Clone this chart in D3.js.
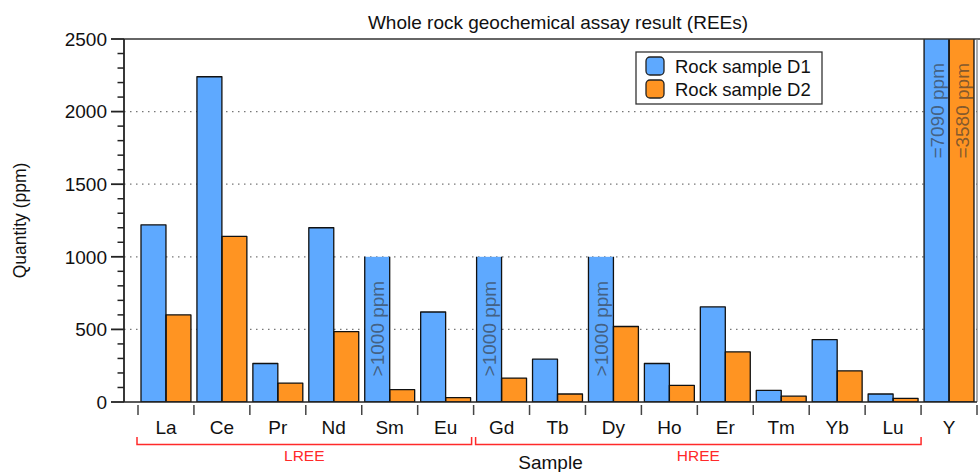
<!DOCTYPE html>
<html>
<head>
<meta charset="utf-8">
<script src="https://cdn.jsdelivr.net/npm/d3@7"></script>
<style>
  html, body { margin: 0; padding: 0; background: #fff; }
  svg { display: block; font-family: "Liberation Sans", Arial, Helvetica, sans-serif; }
</style>
</head>
<body>
<svg id="chart" width="980" height="472"></svg>
<script>
// Rare-earth elements (plus yttrium) measured in two rock samples
const elements = ["La", "Ce", "Pr", "Nd", "Sm", "Eu", "Gd", "Tb", "Dy", "Ho", "Er", "Tm", "Yb", "Lu", "Y"];
const seriesNames = ["Rock sample D1", "Rock sample D2"];
const d1Values = [1220, 2240, 265, 1200, 1000, 620, 1000, 295, 1000, 265, 655, 80, 430, 55, 7090];
const d2Values = [600, 1140, 130, 485, 85, 30, 165, 55, 520, 115, 345, 40, 215, 25, 3580];
// Annotations written inside bars (censored or off-scale values)
const d1Notes = [null, null, null, null, ">1000 ppm", null, ">1000 ppm", null, ">1000 ppm", null, null, null, null, null, "=7090 ppm"];
const d2Notes = [null, null, null, null, null, null, null, null, null, null, null, null, null, null, "=3580 ppm"];
// Flags for values that are only lower bounds (bar drawn open at the top)
const d1Open = [false, false, false, false, true, false, true, false, true, false, false, false, false, false, false];
const d2Open = d2Values.map(() => false);
const yTicks = [0, 500, 1000, 1500, 2000, 2500];
const groups = [
  { name: "LREE", from: "La", to: "Eu" },
  { name: "HREE", from: "Gd", to: "Lu" }
];
const colors = ["#5ea9ff", "#ff9422"];

const svg = d3.select("#chart");
const plot = { left: 124, right: 977, top: 39, bottom: 402 };
const fs = 19;

const y = d3.scaleLinear().domain([0, 2500]).range([plot.bottom, plot.top]);
const x = d3.scaleBand().domain(elements).range([138, 977]).padding(0);
const xs = d3.scaleBand().domain([0, 1]).range([3, x.bandwidth() - 3]).padding(0);

// Dotted horizontal gridlines
svg.append("g")
  .selectAll("line")
  .data(yTicks.filter(t => t > 0 && t < 2500))
  .join("line")
  .attr("x1", plot.left).attr("x2", plot.right)
  .attr("y1", d => y(d)).attr("y2", d => y(d))
  .attr("stroke", "#777").attr("stroke-width", 1.3)
  .attr("stroke-dasharray", "1.5,4.5");

// Clip bars to the plotting frame
svg.append("clipPath").attr("id", "plotClip")
  .append("rect")
  .attr("x", plot.left).attr("y", plot.top)
  .attr("width", plot.right - plot.left).attr("height", plot.bottom - plot.top);

const rows = elements.map((el, i) => [
  { el, s: 0, v: d1Values[i], note: d1Notes[i], open: d1Open[i] },
  { el, s: 1, v: d2Values[i], note: d2Notes[i], open: d2Open[i] }
]).flat();

const barsG = svg.append("g").attr("clip-path", "url(#plotClip)");
const barW = xs.bandwidth();

barsG.selectAll("rect.bar")
  .data(rows)
  .join("rect")
  .attr("class", "bar")
  .attr("x", d => x(d.el) + xs(d.s))
  .attr("y", d => y(d.v))
  .attr("width", barW)
  .attr("height", d => y(0) - y(d.v))
  .attr("fill", d => colors[d.s]);

// Bar outlines; lower-bound bars have no top edge
barsG.selectAll("path.outline")
  .data(rows)
  .join("path")
  .attr("class", "outline")
  .attr("d", d => {
    const x0 = x(d.el) + xs(d.s), x1 = x0 + barW;
    const yt = y(d.v), yb = y(0);
    return d.open
      ? `M${x0},${yt}V${yb}H${x1}V${yt}`
      : `M${x0},${yb}V${yt}H${x1}V${yb}Z`;
  })
  .attr("fill", "none")
  .attr("stroke", "#111")
  .attr("stroke-width", 1.3)
  .attr("stroke-linejoin", "round");

// Rotated notes inside bars
barsG.selectAll("text.note")
  .data(rows.filter(d => d.note))
  .join("text")
  .attr("class", "note")
  .attr("transform", d => {
    const cx = x(d.el) + xs(d.s) + barW / 2 + 7;
    const ty = y(Math.min(d.v, 2500)) + 24;
    return `translate(${cx},${ty}) rotate(-90)`;
  })
  .attr("text-anchor", "end")
  .attr("font-size", fs)
  .attr("fill", "#333")
  .attr("fill-opacity", 0.62)
  .text(d => d.note);

// Frame: top edge, right edge, baseline
svg.append("line")
  .attr("x1", plot.left).attr("x2", 980)
  .attr("y1", plot.top).attr("y2", plot.top)
  .attr("stroke", "#333").attr("stroke-width", 1.6);
svg.append("line")
  .attr("x1", plot.right).attr("x2", plot.right)
  .attr("y1", plot.top).attr("y2", plot.bottom)
  .attr("stroke", "#777").attr("stroke-width", 1.2);
svg.append("line")
  .attr("x1", plot.left).attr("x2", plot.right)
  .attr("y1", plot.bottom).attr("y2", plot.bottom)
  .attr("stroke", "#222").attr("stroke-width", 1.6);

// Left axis with minor ticks every 100
const yAxis = svg.append("g").attr("transform", `translate(${plot.left},0)`);
yAxis.append("line")
  .attr("x1", 0).attr("x2", 0).attr("y1", plot.top).attr("y2", plot.bottom)
  .attr("stroke", "#222").attr("stroke-width", 1.8);
yAxis.selectAll("line.minor")
  .data(d3.range(0, 2501, 100).filter(v => v % 500 !== 0))
  .join("line").attr("class", "minor")
  .attr("x1", -6.5).attr("x2", 0)
  .attr("y1", d => y(d)).attr("y2", d => y(d))
  .attr("stroke", "#222").attr("stroke-width", 1.5);
yAxis.selectAll("line.major")
  .data(yTicks)
  .join("line").attr("class", "major")
  .attr("x1", -13).attr("x2", 0)
  .attr("y1", d => y(d)).attr("y2", d => y(d))
  .attr("stroke", "#222").attr("stroke-width", 1.8);
yAxis.selectAll("text")
  .data(yTicks)
  .join("text")
  .attr("x", -17)
  .attr("y", d => y(d))
  .attr("dy", "0.36em")
  .attr("text-anchor", "end")
  .attr("font-size", fs)
  .attr("fill", "#111")
  .text(d => d);

// Category separators and labels below the plot
const xAxis = svg.append("g");
const bounds = elements.map(e => x(e)).concat([x.range()[1]]);
xAxis.selectAll("line")
  .data(bounds)
  .join("line")
  .attr("x1", d => d).attr("x2", d => d)
  .attr("y1", 405).attr("y2", 415)
  .attr("stroke", "#444").attr("stroke-width", 1.5);
xAxis.selectAll("text")
  .data(elements)
  .join("text")
  .attr("x", d => x(d) + x.bandwidth() / 2)
  .attr("y", 434)
  .attr("text-anchor", "middle")
  .attr("font-size", fs)
  .attr("fill", "#111")
  .text(d => d);

// LREE / HREE brackets
const bracket = svg.append("g");
groups.forEach((g, i) => {
  const x0 = x(g.from) - 1 + (i ? 3 : 0);
  const x1 = x(g.to) + x.bandwidth() - (i ? 0 : 2);
  bracket.append("path")
    .attr("d", `M${x0},437V444.5H${x1}V437`)
    .attr("fill", "none")
    .attr("stroke", "#ff2a2a")
    .attr("stroke-width", 1.5);
  bracket.append("text")
    .attr("x", (x0 + x1) / 2)
    .attr("y", 461)
    .attr("text-anchor", "middle")
    .attr("font-size", 15.5)
    .attr("fill", "#ff2a2a")
    .text(g.name);
});

// Axis titles and chart title
svg.append("text")
  .attr("x", (plot.left + plot.right) / 2)
  .attr("y", 469)
  .attr("text-anchor", "middle")
  .attr("font-size", fs)
  .attr("fill", "#111")
  .text("Sample");
svg.append("text")
  .attr("transform", `translate(26,${(plot.top + plot.bottom) / 2}) rotate(-90)`)
  .attr("text-anchor", "middle")
  .attr("font-size", 17.5)
  .attr("fill", "#111")
  .text("Quantity (ppm)");
svg.append("text")
  .attr("x", 558)
  .attr("y", 29)
  .attr("text-anchor", "middle")
  .attr("font-size", fs)
  .attr("fill", "#111")
  .text("Whole rock geochemical assay result (REEs)");

// Legend
const legend = svg.append("g").attr("transform", "translate(636,52)");
legend.append("rect")
  .attr("width", 186).attr("height", 52)
  .attr("fill", "#fff").attr("stroke", "#333").attr("stroke-width", 1.3);
seriesNames.forEach((name, i) => {
  legend.append("rect")
    .attr("x", 10).attr("y", 5 + i * 23)
    .attr("width", 18).attr("height", 18)
    .attr("rx", 4).attr("ry", 4)
    .attr("fill", colors[i]).attr("stroke", "#222").attr("stroke-width", 1.3);
  legend.append("text")
    .attr("x", 39).attr("y", 14 + i * 23)
    .attr("dy", "0.36em")
    .attr("font-size", 18.5)
    .attr("fill", "#111")
    .text(name);
});
</script>
</body>
</html>
